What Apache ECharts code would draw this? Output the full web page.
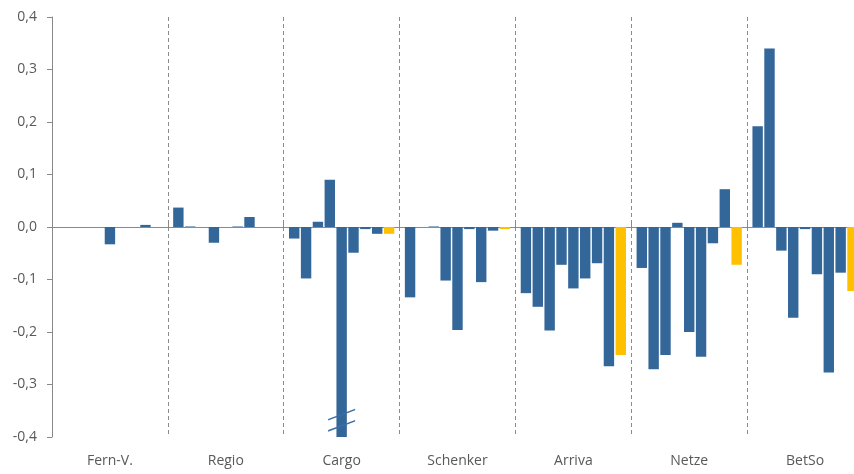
<!DOCTYPE html>
<html>
<head>
<meta charset="utf-8">
<script src="https://cdn.jsdelivr.net/npm/echarts@6/dist/echarts.min.js"></script>
<style>
html, body { margin: 0; padding: 0; background: #fff; }
#chart { width: 854px; height: 474px; }
</style>
</head>
<body>
<div id="chart"></div>
<script>
'use strict';
// groups along the axis
var categories = ['Fern-V.', 'Regio', 'Cargo', 'Schenker', 'Arriva', 'Netze', 'BetSo'];

// nine bars per group, last one is the yellow one
var fernV    = [0, 0, 0, 0, -0.033, 0, 0, 0.004, 0];
var regio    = [0.037, 0.001, 0, -0.030, 0, 0.001, 0.019, 0, 0];
var cargo    = [-0.022, -0.098, 0.010, 0.090, -0.400, -0.049, -0.004, -0.013, -0.013];
var schenker = [-0.134, 0, 0.001, -0.102, -0.196, -0.004, -0.105, -0.007, -0.004];
var arriva   = [-0.126, -0.152, -0.197, -0.072, -0.117, -0.098, -0.069, -0.265, -0.244];
var netze    = [-0.078, -0.271, -0.244, 0.008, -0.200, -0.247, -0.031, 0.072, -0.072];
var betSo    = [0.192, 0.340, -0.045, -0.173, -0.004, -0.090, -0.277, -0.087, -0.122];

var yMin = -0.4, yMax = 0.4, yStep = 0.1;

var groups = [fernV, regio, cargo, schenker, arriva, netze, betSo];
var blue = '#336699', yellow = '#FFC000';
var grey = '#898989', textGrey = '#595959';
var font = '"Open Sans", "Liberation Sans", sans-serif';

function buildSeries() {
	var list = [];
	var n = groups[0].length;
	for (var i = 0; i < n; i++) {
		var s = {
			type: 'bar',
			xAxisIndex: 0,
			barWidth: 10.4,
			barGap: '14%',
			itemStyle: { color: i === n - 1 ? yellow : blue },
			data: groups.map(function(g) { return g[i]; })
		};
		// middle bar of Cargo runs off the scale: axis-break mark
		if (i === 4) {
			s.markPoint = {
				silent: true,
				symbol: 'path://M0 10.2 L27 0 L27 1.6 L0 11.8 Z M0 21.4 L27 11.2 L27 12.8 L0 23 Z',
				symbolSize: [27, 23],
				itemStyle: { color: '#3a6fa6' },
				label: { show: false },
				data: [{ coord: ['Cargo', -0.368] }]
			};
		}
		list.push(s);
	}
	return list;
}

var target = echarts.init(document.getElementById('chart'));
target.setOption({
	animation: false,
	// the plot runs a little past the right edge of the picture
	grid: { left: 52, width: 811, top: 17, bottom: 37, outerBoundsMode: 'none', containLabel: false },
	xAxis: [{
		type: 'category',
		data: categories,
		axisLine: { onZero: true, lineStyle: { color: grey, width: 1 } },
		axisTick: { show: true, inside: true, length: 7, lineStyle: { color: grey } },
		axisLabel: { show: false },
		splitLine: { show: true, lineStyle: { color: '#8c8c8c', type: [4, 3], width: 1 } }
	}, {
		type: 'category',
		data: categories,
		position: 'bottom',
		axisLine: { show: false, onZero: false },
		axisTick: { show: false },
		splitLine: { show: false },
		axisLabel: { color: textGrey, fontFamily: font, fontSize: 14, margin: 17 }
	}],
	yAxis: {
		type: 'value',
		min: yMin,
		max: yMax,
		interval: yStep,
		axisLine: { show: true, onZero: false, lineStyle: { color: grey } },
		axisTick: { show: true, length: 5, lineStyle: { color: grey } },
		splitLine: { show: false },
		axisLabel: {
			color: textGrey, fontFamily: font, fontSize: 14, margin: 15,
			formatter: function(v) { return v.toFixed(1).replace('.', ','); }
		}
	},
	series: buildSeries()
});
</script>
</body>
</html>
